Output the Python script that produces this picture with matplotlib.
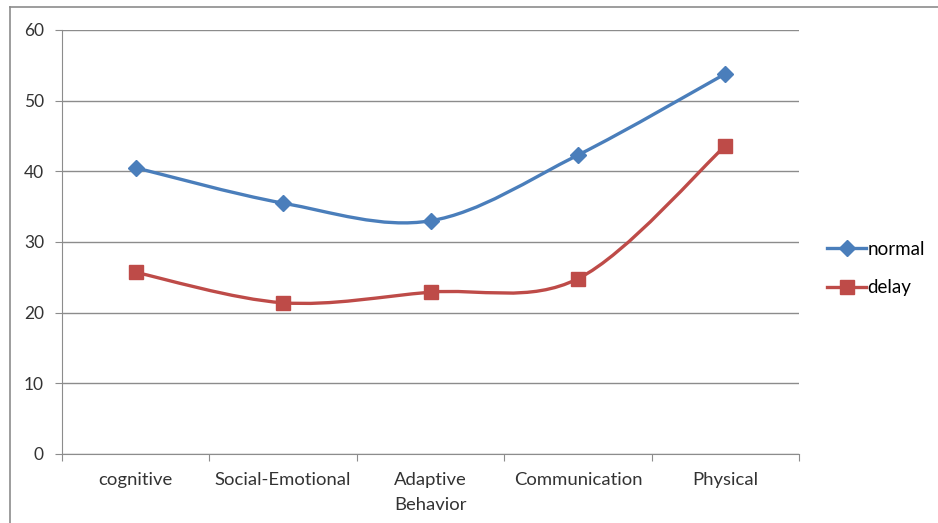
import matplotlib.pyplot as plt
from matplotlib.path import Path
from matplotlib.patches import PathPatch
from matplotlib.lines import Line2D

categories = ['cognitive', 'Social-Emotional', 'Adaptive\nBehavior', 'Communication', 'Physical']
normal = [40.5, 35.5, 33.0, 42.3, 53.8]
delay = [25.7, 21.4, 22.9, 24.8, 43.6]

plt.rcParams['font.family'] = ['Lato', 'DejaVu Sans']
grid_col = '#8c8c8c'


def smooth_path(xs, ys):
    # Excel-style smoothed line: cubic bezier segments through the points
    verts = [(xs[0], ys[0])]
    codes = [Path.MOVETO]
    n = len(xs)
    for i in range(n - 1):
        x0, y0 = (xs[i - 1], ys[i - 1]) if i > 0 else (xs[i], ys[i])
        x1, y1 = xs[i], ys[i]
        x2, y2 = xs[i + 1], ys[i + 1]
        x3, y3 = (xs[i + 2], ys[i + 2]) if i + 2 < n else (x2, y2)
        c1 = (x1 + (x2 - x0) / 6, y1 + (y2 - y0) / 6)
        c2 = (x2 - (x3 - x1) / 6, y2 - (y3 - y1) / 6)
        verts += [c1, c2, (x2, y2)]
        codes += [Path.CURVE4] * 3
    return Path(verts, codes)


fig = plt.figure(figsize=(9.38, 5.23), dpi=100)
ax = fig.add_axes([62 / 938, 69 / 523, 737 / 938, 424 / 523])

xs = list(range(1, len(categories) + 1))
series = [(normal, '#4A7EBB', 'D', 8.5, 'normal'), (delay, '#BE4B48', 's', 9.5, 'delay')]
for vals, col, mk, ms, lab in series:
    ax.add_patch(PathPatch(smooth_path(xs, vals), facecolor='none', edgecolor=col, lw=2.4, zorder=3))
    ax.plot(xs, vals, linestyle='none', marker=mk, markersize=ms, color=col, zorder=4)

ax.set_xlim(0.5, len(categories) + 0.5)
ax.set_ylim(0, 60)
ax.set_yticks(range(0, 61, 10))
ax.yaxis.grid(True, color=grid_col, lw=1)
ax.set_axisbelow(True)
ax.set_xticks([x + 0.5 for x in range(0, len(categories) + 1)])
ax.set_xticklabels([])
ax.set_xticks(xs, minor=True)
ax.set_xticklabels(categories, minor=True, fontsize=13.3, color='#333333', linespacing=1.7)
ax.tick_params(axis='x', which='minor', length=0, pad=13)
ax.tick_params(axis='x', which='major', length=5, color=grid_col, direction='out')
ax.tick_params(axis='y', length=5, color=grid_col, labelsize=12.5, labelcolor='#333333', pad=8)
for side in ['top', 'right']:
    ax.spines[side].set_visible(False)
for side in ['left', 'bottom']:
    ax.spines[side].set_color(grid_col)

handles = [Line2D([], [], color=c, lw=2.4, marker=m, markersize=s) for _, c, m, s, _ in series]
fig.legend(handles, [s[4] for s in series], loc='center left', bbox_to_anchor=(827 / 938, 1 - 268.5 / 523),
           frameon=False, fontsize=13.5, handlelength=2.1, handletextpad=0.05, labelspacing=1.15,
           borderpad=0, borderaxespad=0)

# outer chart frame
fig.add_artist(Line2D([10 / 938, 10 / 938], [0, 1 - 7 / 523], color='#8c8c8c', lw=1.2))
fig.add_artist(Line2D([10 / 938, 1], [1 - 7 / 523, 1 - 7 / 523], color='#8c8c8c', lw=1.2))

fig.savefig('out.png', dpi=100)
